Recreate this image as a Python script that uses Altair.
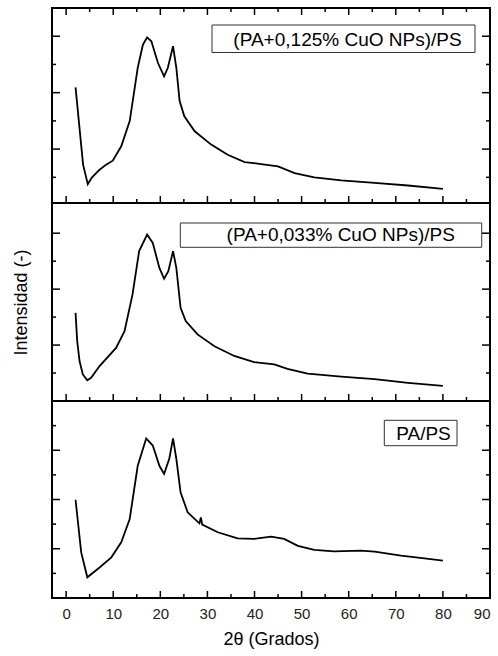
import altair as alt
import pandas as pd

# ---------------- data ----------------
x_major = [0, 10, 20, 30, 40, 50, 60, 70, 80, 90]
x_minor = [5, 15, 25, 35, 45, 55, 65, 75, 85]

labels = ["(PA+0,125% CuO NPs)/PS", "(PA+0,033% CuO NPs)/PS", "PA/PS"]

p1_theta = [2.0, 3.6, 4.6, 5.5, 7.1, 8.5, 9.9, 11.7, 13.5, 15.2, 16.3, 17.2, 18.1,
            19.5, 20.8, 21.6, 22.7, 23.4, 24.1, 25.1, 27.3, 30.8, 34.3, 37.9, 41.4,
            45.0, 48.5, 52.7, 58.4, 65.5, 72.6, 80.0]
p1_int = [419, 145, 76, 100, 127, 145, 159, 210, 299, 488, 570, 596, 582,
          505, 458, 488, 565, 488, 370, 316, 263, 216, 180, 154, 147,
          139, 115, 100, 89, 80, 71, 59]

p2_theta = [2.0, 2.35, 2.85, 3.55, 4.5, 5.3, 7.1, 10.6, 12.4, 14.1, 15.5, 17.2,
            18.4, 19.8, 20.8, 21.7, 22.7, 23.4, 24.3, 25.4, 27.9, 31.5, 35.7, 39.9,
            44.2, 47.0, 51.3, 58.4, 65.5, 72.6, 80.0]
p2_int = [315, 214, 143, 95, 74, 83, 125, 190, 250, 381, 536, 595,
          565, 476, 437, 464, 536, 476, 333, 286, 238, 196, 161, 139,
          131, 115, 98, 87, 78, 65, 54]

p3_theta = [2.0, 3.2, 4.5, 7.1, 9.6, 11.7, 13.5, 15.2, 17.0, 18.4, 19.8, 20.8,
            21.9, 22.7, 23.4, 24.3, 25.8, 28.3, 28.6, 28.9, 32.2, 36.4, 39.9,
            43.5, 46.3, 49.2, 52.7, 56.9, 62.6, 65.5, 71.1, 76.1, 80.0]
p3_int = [399, 185, 84, 124, 165, 226, 321, 537, 648, 619, 537, 504,
          565, 648, 565, 429, 348, 303, 327, 298, 267, 242, 240,
          249, 240, 212, 195, 189, 192, 188, 172, 161, 152]

y_major = {1: [200, 400, 600], 2: [200, 400, 600], 3: [200, 400, 600]}
y_minor = {1: [100, 300, 500], 2: [100, 300, 500], 3: [100, 300, 500, 700]}

# ---------------- layout ----------------
W = 438
FONT = "Liberation Sans"
TICK_W = 1.5


def panel(idx, theta, inten, height, ydomain, top_ticks, bottom_labels, y_title,
          box, text_xy):
    df = pd.DataFrame({"theta": theta, "I": inten})
    xs = alt.Scale(domain=[-3, 90], nice=False, zero=False)
    ys = alt.Scale(domain=ydomain, nice=False, zero=False)

    xa = None
    ya = None
    if bottom_labels:
        xa = alt.Axis(orient="bottom", values=x_major, ticks=False, domain=False,
                      grid=False, labelFontSize=15, labelPadding=8,
                      labelColor="#222", labelFont=FONT,
                      title="2θ (Grados)", titleFontSize=18,
                      titleFontWeight="normal", titleFont=FONT,
                      titleColor="black", titlePadding=9)
    if y_title:
        ya = alt.Axis(orient="left", labels=False, ticks=False, domain=False,
                      grid=False, title="Intensidad (-)", titleFontSize=18,
                      titleFontWeight="normal", titleFont=FONT,
                      titleColor="black", titlePadding=22)

    def X(field):
        return alt.X(field, scale=xs, axis=xa)

    def Y(field):
        return alt.Y(field, scale=ys, axis=ya)

    layers = [alt.Chart(df).mark_line(color="black", strokeWidth=1.8).encode(
        x=X("theta:Q"), y=Y("I:Q"))]

    # inward tick marks, positioned through the shared scales
    xmaj = pd.DataFrame({"theta": x_major})
    xmin = pd.DataFrame({"theta": x_minor})
    ymaj = pd.DataFrame({"I": y_major[idx]})
    ymin = pd.DataFrame({"I": y_minor[idx]})

    def xticks(d, y0, y1):
        return alt.Chart(d).mark_rule(color="black", strokeWidth=TICK_W).encode(
            x=X("theta:Q"), y=alt.value(y0), y2=alt.value(y1))

    def yticks(d, x0, x1):
        return alt.Chart(d).mark_rule(color="black", strokeWidth=TICK_W).encode(
            y=Y("I:Q"), x=alt.value(x0), x2=alt.value(x1))

    layers += [xticks(xmaj, height, height - 7), xticks(xmin, height, height - 4)]
    if top_ticks:
        layers += [xticks(xmaj, 0, 7), xticks(xmin, 0, 4)]
    layers += [yticks(ymaj, 0, 8), yticks(ymin, 0, 4),
               yticks(ymaj, W - 8, W), yticks(ymin, W - 4, W)]

    lab = pd.DataFrame({"label": [labels[idx - 1]]})
    bx0, bx1, by0, by1 = box
    layers.append(alt.Chart(lab).mark_rect(fill="white", stroke="#333",
                                           strokeWidth=1).encode(
        x=alt.value(bx0), x2=alt.value(bx1), y=alt.value(by0), y2=alt.value(by1)))
    layers.append(alt.Chart(lab).mark_text(font=FONT, fontSize=19, color="black",
                                           align="center", baseline="middle").encode(
        x=alt.value(text_xy[0]), y=alt.value(text_xy[1]), text="label:N"))

    return alt.layer(*layers).properties(width=W, height=height)


p1 = panel(1, p1_theta, p1_int, 195, [9, 700], True, False, False,
           (160, 423, 17, 44.5), (295.5, 31.5))
p2 = panel(2, p2_theta, p2_int, 198, [0, 708], False, False, True,
           (128.3, 429.7, 20, 44.3), (288.7, 32))
p3 = panel(3, p3_theta, p3_int, 197, [0, 800], False, True, False,
           (332.3, 405, 19.3, 44.7), (371.5, 33))

chart = alt.vconcat(p1, p2, p3, spacing=0, bounds="flush").properties(
    padding={"left": 11, "top": 6, "right": 0, "bottom": 0},
    background="white",
).configure_view(stroke="black", strokeWidth=2)

chart.save("out.html", embed_options={"renderer": "svg", "actions": False})
